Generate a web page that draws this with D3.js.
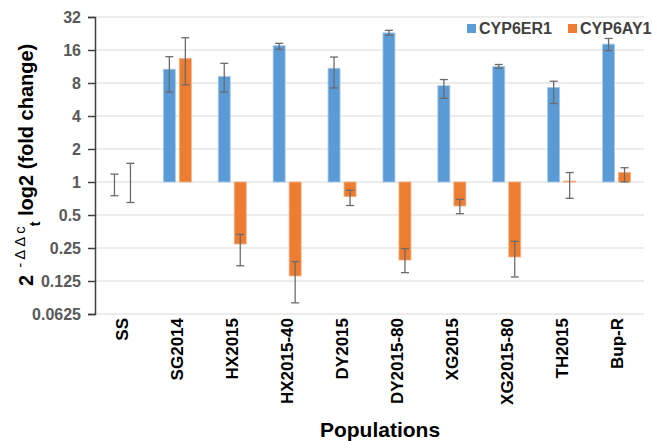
<!DOCTYPE html>
<html>
<head>
<meta charset="utf-8">
<script src="https://cdn.jsdelivr.net/npm/d3@7"></script>
<style>
  body { margin: 0; background: #fff; }
  svg { font-family: "Liberation Sans", Arial, sans-serif; }
</style>
</head>
<body>
<svg width="652" height="441"></svg>
<script>
// qPCR fold change, log2 axis, bars grow from 1

var categories = ["SS", "SG2014", "HX2015", "HX2015-40", "DY2015", "DY2015-80", "XG2015", "XG2015-80", "TH2015", "Bup-R"]
var seriesNames = ["CYP6ER1", "CYP6AY1"]

var er1 = [1, 10.7, 9.2, 17.5, 10.9, 22.9, 7.56, 11.3, 7.3, 18.1]
var er1Hi = [1.18, 13.9, 12.1, 18.4, 13.8, 24.2, 8.6, 11.8, 8.3, 20.4]
var er1Lo = [0.75, 6.6, 6.6, 16.2, 7.2, 21.8, 5.8, 10.9, 5.2, 15.8]

var ay1 = [1, 13.4, 0.272, 0.139, 0.735, 0.194, 0.604, 0.207, 1.02, 1.22]
var ay1Hi = [1.48, 20.7, 0.333, 0.188, 0.84, 0.247, 0.695, 0.288, 1.22, 1.35]
var ay1Lo = [0.65, 7.7, 0.172, 0.079, 0.61, 0.149, 0.514, 0.136, 0.71, 1.0]

var yTicks = [0.0625, 0.125, 0.25, 0.5, 1, 2, 4, 8, 16, 32]
var yTickText = ["0.0625", "0.125", "0.25", "0.5", "1", "2", "4", "8", "16", "32"]

var colors = {CYP6ER1: "#5b9bd5", CYP6AY1: "#ed7d31"}
var strokes = {CYP6ER1: "#a9c9ea", CYP6AY1: "#f4b183"}

var margins = {top: 17, left: 95, right: 8, bottom: 127}
var screen = {width: 652, height: 441}
var width = screen.width - margins.left - margins.right
var height = screen.height - margins.top - margins.bottom

var svg = d3.select("svg")

var rows = categories.map(function(c, i) {
    return {
        cat: c,
        vals: [
            {name: "CYP6ER1", v: er1[i], hi: er1Hi[i], lo: er1Lo[i]},
            {name: "CYP6AY1", v: ay1[i], hi: ay1Hi[i], lo: ay1Lo[i]}
        ]
    }
})

var xScale = d3.scaleBand()
    .domain(categories)
    .range([0, width])
    .padding(0)

var bw = xScale.bandwidth()
var x1 = d3.scaleBand()
    .domain(seriesNames)
    .range([bw / 2 - 14, bw / 2 + 14])
    .paddingInner(0.25)

var yScale = d3.scaleLog()
    .base(2)
    .domain([0.0625, 32])
    .range([height, 0])

var g = svg.append("g")
    .attr("transform", "translate(" + margins.left + "," + margins.top + ")")

// gridlines
g.selectAll(".grid")
    .data(yTicks)
    .enter()
    .append("line")
    .attr("class", "grid")
    .attr("x1", 0)
    .attr("x2", width)
    .attr("y1", function(d) { return yScale(d) })
    .attr("y2", function(d) { return yScale(d) })
    .attr("stroke", "#d9d9d9")
    .attr("stroke-width", 1)

// bars
var groups = g.selectAll(".cat")
    .data(rows)
    .enter()
    .append("g")
    .attr("class", "cat")
    .attr("transform", function(d) { return "translate(" + xScale(d.cat) + ",0)" })

groups.selectAll("rect")
    .data(function(d) { return d.vals.filter(function(s) { return s.v != 1 }) })
    .enter()
    .append("rect")
    .attr("x", function(s) { return x1(s.name) })
    .attr("width", x1.bandwidth())
    .attr("y", function(s) { return Math.min(yScale(s.v), yScale(1)) })
    .attr("height", function(s) { return Math.max(Math.abs(yScale(s.v) - yScale(1)), 1) })
    .attr("fill", function(s) { return colors[s.name] })
    .attr("stroke", function(s) { return strokes[s.name] })
    .attr("stroke-width", 0.8)

// error bars
var errs = groups.selectAll(".err")
    .data(function(d) { return d.vals })
    .enter()
    .append("g")
    .attr("class", "err")
    .attr("transform", function(s) { return "translate(" + (x1(s.name) + x1.bandwidth() / 2) + ",0)" })

errs.append("line")
    .attr("x1", 0).attr("x2", 0)
    .attr("y1", function(s) { return yScale(s.hi) })
    .attr("y2", function(s) { return yScale(s.lo) })
errs.append("line")
    .attr("x1", -4).attr("x2", 4)
    .attr("y1", function(s) { return yScale(s.hi) })
    .attr("y2", function(s) { return yScale(s.hi) })
errs.append("line")
    .attr("x1", -4).attr("x2", 4)
    .attr("y1", function(s) { return yScale(s.lo) })
    .attr("y2", function(s) { return yScale(s.lo) })
errs.selectAll("line")
    .attr("stroke", "#6b6b6b")
    .attr("stroke-width", 1.3)

// y axis
var yAxis = d3.axisLeft(yScale)
    .tickValues(yTicks)
    .tickFormat(function(d, i) { return yTickText[i] })
    .tickSize(7)
    .tickPadding(7)

var ya = g.append("g").call(yAxis)
ya.select(".domain").attr("stroke", "#404040").attr("stroke-width", 1.5)
ya.selectAll(".tick line").attr("stroke", "#404040").attr("stroke-width", 1.5)
ya.selectAll(".tick text")
    .attr("fill", "#595959")
    .style("font-size", "16px")
    .style("font-weight", "bold")
    .attr("font-family", "Liberation Sans, Arial, sans-serif")

// x labels
g.selectAll(".xlab")
    .data(categories)
    .enter()
    .append("text")
    .attr("class", "xlab")
    .attr("transform", function(d) {
        return "translate(" + (xScale(d) + bw / 2 + 6) + "," + (height + 4) + ") rotate(-90)"
    })
    .attr("text-anchor", "end")
    .style("font-size", "17px")
    .style("font-weight", "bold")
    .attr("fill", "#000")
    .text(function(d) { return d })

// x title
svg.append("text")
    .attr("x", 380)
    .attr("y", 437)
    .attr("text-anchor", "middle")
    .style("font-size", "21px")
    .style("font-weight", "bold")
    .text("Populations")

// y title
var yt = svg.append("text")
    .attr("transform", "translate(33,286) rotate(-90)")
    .style("font-weight", "bold")
    .attr("fill", "#000")
yt.append("tspan").style("font-size", "20px").text("2")
yt.append("tspan").style("font-size", "15px").style("font-weight", "normal")
    .style("letter-spacing", "3px")
    .attr("dy", -8).text(" -\u0394\u0394c")
yt.append("tspan").style("font-size", "14px").attr("dy", 15).attr("dx", -3).text("t")
yt.append("tspan").style("font-size", "20px").attr("dy", -7).text(" log2 (fold change)")

// legend
var legend = svg.append("g")
var legX = [467, 568]
seriesNames.forEach(function(name, i) {
    legend.append("rect")
        .attr("x", legX[i])
        .attr("y", 24)
        .attr("width", 9)
        .attr("height", 9)
        .attr("fill", colors[name])
    legend.append("text")
        .attr("x", legX[i] + 12)
        .attr("y", 34)
        .style("font-size", "16px")
        .style("font-weight", "bold")
        .attr("fill", "#404040")
        .text(name)
})
</script>
</body>
</html>
